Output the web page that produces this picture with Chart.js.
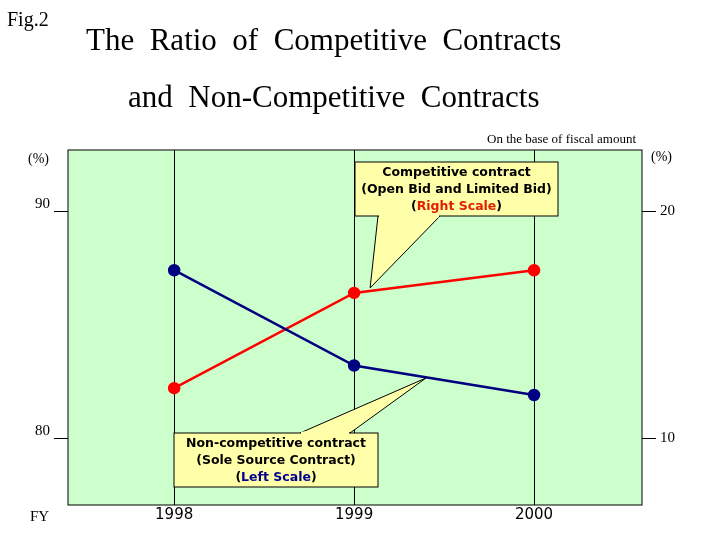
<!DOCTYPE html>
<html><head><meta charset="utf-8">
<script src="https://cdn.jsdelivr.net/npm/chart.js@4"></script>
<style>
body{margin:0;background:#fff;font-family:"Liberation Serif",serif;}
#w{position:relative;width:720px;height:540px;}
.t{position:absolute;white-space:nowrap;color:#000;}
</style></head><body>
<div id="w">
<canvas id="c" width="720" height="540"></canvas>
<div class="t" style="left:7px;top:8px;font-size:20px">Fig.2</div>
<div class="t" style="left:86px;top:22px;font-size:31px">The&nbsp; Ratio&nbsp; of&nbsp; Competitive&nbsp; Contracts</div>
<div class="t" style="left:128px;top:79px;font-size:31px">and&nbsp; Non-Competitive&nbsp; Contracts</div>
<div class="t" style="left:487px;top:131px;font-size:13px">On the base of fiscal amount</div>
<div class="t" style="left:28px;top:151px;font-size:14px">(%)</div>
<div class="t" style="left:651px;top:149px;font-size:14px">(%)</div>
<div class="t" style="left:30px;top:508px;font-size:15px">FY</div>
</div>
<script>
const years=[1998,1999,2000];
const nonCompetitive=[87.4,83.2,81.9];
const competitive=[12.2,16.4,17.4];
const leftTicks=[80,90];
const rightTicks=[10,20];

const callouts={
 id:'callouts',
 beforeDraw(ch){const a=ch.chartArea,c=ch.ctx;c.save();c.fillStyle='#CCFFCC';c.fillRect(a.left,a.top,a.right-a.left,a.bottom-a.top);c.restore();},
 afterDraw(ch){
  const c=ch.ctx,a=ch.chartArea,x=ch.scales.x,yl=ch.scales.yl,yr=ch.scales.yr;
  c.save();
  c.strokeStyle='#000';c.lineWidth=1;c.strokeRect(a.left,a.top,a.right-a.left,a.bottom-a.top);
  function box(x0,y0,w,h,tip,b1,b2,lines){
   c.fillStyle='#FFFFAA';c.beginPath();
   c.moveTo(b1[0],b1[1]);c.lineTo(tip[0],tip[1]);c.lineTo(b2[0],b2[1]);c.closePath();c.fill();c.stroke();
   c.fillRect(x0,y0,w,h);c.strokeRect(x0,y0,w,h);
   c.fillStyle='#FFFFAA';c.fillRect(Math.min(b1[0],b2[0])+1,b1[1]-1.5,Math.abs(b2[0]-b1[0])-2,3);
   c.font='bold 12.5px "DejaVu Sans",sans-serif';c.textAlign='center';c.textBaseline='middle';
   lines.forEach((l,i)=>{const yy=y0+11+i*17;
     if(Array.isArray(l)){const full=l.map(p=>p[0]).join('');let tw=c.measureText(full).width;let sx=x0+w/2-tw/2;c.textAlign='left';
       l.forEach(p=>{c.fillStyle=p[1];c.fillText(p[0],sx,yy);sx+=c.measureText(p[0]).width;});c.textAlign='center';}
     else{c.fillStyle='#000';c.fillText(l,x0+w/2,yy);}});
  }
  const rp=[x.getPixelForValue(1999)+16,yr.getPixelForValue(competitive[1])-5];
  box(355,162,203,54,rp,[378,216],[440,216],['Competitive contract','(Open Bid and Limited Bid)',[['(','#000'],['Right Scale','#E02000'],[')','#000']]]);
  const bp=[x.getPixelForValue(1999.4),yl.getPixelForValue(82.65)];
  box(174,433,204,54,bp,[300,433],[350,433],['Non-competitive contract','(Sole Source Contract)',[['(','#000'],['Left Scale','#000090'],[')','#000']]]);
  c.restore();
 }};

new Chart(document.getElementById('c'),{
 type:'line',
 data:{datasets:[
  {data:years.map((y,i)=>({x:y,y:nonCompetitive[i]})),yAxisID:'yl',borderColor:'#000080',backgroundColor:'#000080',borderWidth:2.5,pointRadius:5,pointHoverRadius:5},
  {data:years.map((y,i)=>({x:y,y:competitive[i]})),yAxisID:'yr',borderColor:'#FF0000',backgroundColor:'#FF0000',borderWidth:2.5,pointRadius:5,pointHoverRadius:5}
 ]},
 options:{responsive:false,animation:false,events:[],
  layout:{padding:{top:150,left:0,right:0,bottom:0}},
  plugins:{legend:{display:false},tooltip:{enabled:false}},
  scales:{
   x:{type:'linear',min:1997.41,max:2000.6,afterBuildTicks:s=>{s.ticks=years.map(v=>({value:v}))},
      afterFit:s=>{s.height=35},
      grid:{color:'#000',tickLength:0,drawTicks:false},border:{display:false},
      ticks:{callback:v=>String(v),color:'#000',font:{family:'"DejaVu Sans",sans-serif',size:15},padding:1}},
   yl:{position:'left',min:77.05,max:92.7,afterBuildTicks:s=>{s.ticks=leftTicks.map(v=>({value:v}))},
      afterFit:s=>{s.width=68},
      grid:{drawOnChartArea:false,color:'#000',tickLength:14},border:{display:false},
      ticks:{color:'#000',font:{family:'"Liberation Serif",serif',size:15},padding:4,align:'end'}},
   yr:{position:'right',min:7.05,max:22.7,afterBuildTicks:s=>{s.ticks=rightTicks.map(v=>({value:v}))},
      afterFit:s=>{s.width=78},
      grid:{drawOnChartArea:false,color:'#000',tickLength:14},border:{display:false},
      ticks:{color:'#000',font:{family:'"Liberation Serif",serif',size:15},padding:4}}
  }},
 plugins:[callouts]
});
</script></body></html>
